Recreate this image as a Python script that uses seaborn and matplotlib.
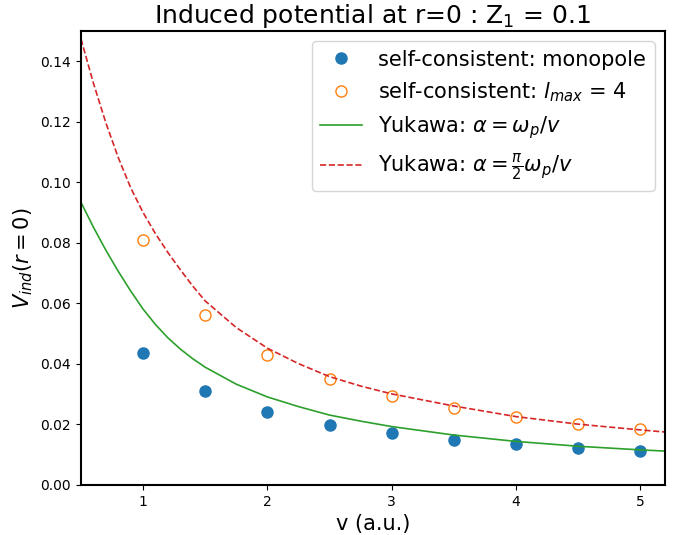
import matplotlib
matplotlib.use("Agg")
import matplotlib.pyplot as plt
import seaborn as sns
import pandas as pd

# self-consistent data points
v_points = [1.0, 1.5, 2.0, 2.5, 3.0, 3.5, 4.0, 4.5, 5.0]
monopole = [0.0435, 0.0309, 0.0240, 0.0199, 0.0171, 0.0150, 0.01345, 0.01225, 0.01126]
lmax4 = [0.0808, 0.0562, 0.0430, 0.0349, 0.0294, 0.0256, 0.0226, 0.0203, 0.0185]

# Yukawa curves
v_curve = [0.5, 0.6, 0.7, 0.8, 0.9, 1.0, 1.1, 1.2, 1.3, 1.4, 1.5, 1.75,
           2.0, 2.25, 2.5, 2.75, 3.0, 3.5, 4.0, 4.5, 5.0, 5.2]
yuk1 = [0.0934, 0.0852, 0.0776, 0.0706, 0.0641, 0.0581, 0.0530, 0.0486, 0.0449,
        0.0417, 0.0389, 0.0333, 0.0291, 0.0259, 0.0231, 0.0211, 0.0193, 0.0165,
        0.0144, 0.0128, 0.0116, 0.0112]
yuk2 = [0.1474, 0.1328, 0.1197, 0.1082, 0.0982, 0.0900, 0.0830, 0.0768, 0.0711,
        0.0657, 0.0608, 0.0520, 0.0452, 0.0401, 0.0358, 0.0327, 0.0301, 0.0261,
        0.0226, 0.0201, 0.0182, 0.0175]

plt.rcParams['font.family'] = ['DejaVu Sans']

fig = plt.figure(figsize=(6.77, 5.35), dpi=100)
ax = fig.add_axes([0.1196, 0.0935, 0.8627, 0.8485])

dfp = pd.DataFrame({"v": v_points, "mono": monopole, "l4": lmax4})
dfc = pd.DataFrame({"v": v_curve, "y1": yuk1, "y2": yuk2})

ax.plot(dfp["v"], dfp["mono"], 'o', color='#1f77b4', markersize=8,
        label='self-consistent: monopole')
ax.plot(dfp["v"], dfp["l4"], 'o', markerfacecolor='none', markeredgecolor='#ff7f0e',
        markersize=8, markeredgewidth=1.0, label=r'self-consistent: $l_{max}$ = 4')
sns.lineplot(data=dfc, x="v", y="y1", ax=ax, color='#2ca02c', linewidth=1.2,
             label=r'Yukawa: $\alpha = \omega_p/v$')
sns.lineplot(data=dfc, x="v", y="y2", ax=ax, color='#d62728', linewidth=1.2,
             linestyle='--', label=r'Yukawa: $\alpha = \frac{\pi}{2}\omega_p/v$')

ax.set_xlim(0.5, 5.2)
ax.set_ylim(0, 0.15)
ax.set_xticks([1, 2, 3, 4, 5])
ax.set_yticks([0.0, 0.02, 0.04, 0.06, 0.08, 0.10, 0.12, 0.14])
ax.set_yticklabels(['0.00', '0.02', '0.04', '0.06', '0.08', '0.10', '0.12', '0.14'])
ax.tick_params(labelsize=10, direction='out', length=3.5, width=0.8, colors='black')
for s in ax.spines.values():
    s.set_linewidth(1.5)
    s.set_color('black')
ax.set_xlabel('v (a.u.)', fontsize=15, color='black')
ax.set_ylabel(r'$V_{ind}(r=0)$', fontsize=15, color='black')
ax.set_title(r'Induced potential at r=0 : Z$_1$ = 0.1', fontsize=18, color='black')
ax.legend(loc='upper right', fontsize=15)

fig.savefig('out.png', dpi=100)
